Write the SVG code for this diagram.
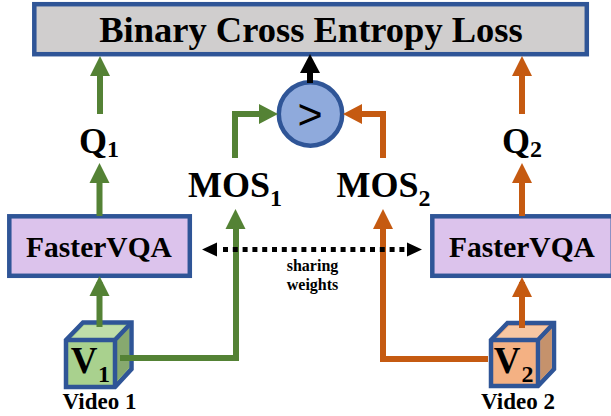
<svg xmlns="http://www.w3.org/2000/svg" width="611" height="416" viewBox="0 0 611 416">
<style>
.t{font-family:"Liberation Serif","Times New Roman",serif;font-weight:bold;fill:#000;text-anchor:middle}
.box{stroke:#2f5597;stroke-width:4.5}
.g{stroke:#548235;fill:none;stroke-width:6}
.o{stroke:#c55a11;fill:none;stroke-width:6}
.gh{fill:#548235}.oh{fill:#c55a11}
</style>
<rect width="611" height="416" fill="#fff"/>
<g id="loss"><rect class="box" x="34.3" y="4.2" width="552.5" height="50" fill="#d0cece"/>
<text class="t" x="311" y="42" font-size="36.5">Binary Cross Entropy Loss</text></g>
<g id="compare"><circle class="box" cx="310.5" cy="114" r="31.7" fill="#8faadc"/>
<text x="310" y="129" font-size="43" text-anchor="middle" font-family="Liberation Sans, Arial, sans-serif" fill="#000">&gt;</text></g>
<g id="q1"><text class="t" x="99" y="153" font-size="36">Q<tspan font-size="24" dy="4">1</tspan></text></g>
<g id="q2"><text class="t" x="522" y="153" font-size="36">Q<tspan font-size="24" dy="4">2</tspan></text></g>
<g id="mos1"><text class="t" x="235" y="197" font-size="36">MOS<tspan font-size="24" dy="9">1</tspan></text></g>
<g id="mos2"><text class="t" x="383.500" y="197" font-size="36">MOS<tspan font-size="24" dy="9">2</tspan></text></g>
<g id="fastervqa1"><rect class="box" x="9.3" y="216.3" width="180.5" height="59.5" fill="#dcc3ec"/>
<text class="t" x="99" y="257" font-size="29.500">FasterVQA</text></g>
<g id="fastervqa2"><rect class="box" x="432.3" y="216.3" width="180.5" height="59.5" fill="#dcc3ec"/>
<text class="t" x="522" y="257" font-size="29.500">FasterVQA</text></g>
<g id="video1">
<path d="M66 340 L83 322.500 H131.500 V369 L115 387 H66 Z" fill="#a9d18e" stroke="#2f5597" stroke-width="4.500"/>
<path d="M72 338 L84 325.500 H126 L113 338 Z" fill="#bfdea9"/>
<path d="M117 341 L129 328 V368 L117 381 Z" fill="#87a96f"/>
<path d="M66 340 H115 V387 M115 340 L131.500 322.500" fill="none" stroke="#2f5597" stroke-width="4.500"/>
<text class="t" x="84" y="373" font-size="37">V</text><text class="t" x="104" y="382" font-size="24">1</text>
<text class="t" x="99.500" y="409" font-size="23">Video 1</text></g>
<g id="video2">
<path d="M491 340 L507.500 323 H554 V369 L538 386 H491 Z" fill="#f4b183" stroke="#2f5597" stroke-width="4.500"/>
<path d="M497 338 L509 326 H549 L537 338 Z" fill="#f7c7a3"/>
<path d="M540.500 341 L551.500 329 V368 L540.500 380 Z" fill="#c5926c"/>
<path d="M491 340 H538 V386 M538 340 L554 323" fill="none" stroke="#2f5597" stroke-width="4.500"/>
<text class="t" x="507" y="373" font-size="37">V</text><text class="t" x="527.500" y="382" font-size="24">2</text>
<text class="t" x="518" y="409" font-size="23">Video 2</text></g>
<g id="sharing"><text class="t" x="312.500" y="271" font-size="16">sharing</text>
<text class="t" x="312.500" y="290" font-size="16">weights</text></g>
<g id="connectors">
<path class="g" d="M100 114V75M99.500 216V182M99.500 327V282M235 158V114H260M120 358H236V226"/>
<path class="gh" d="M100 56l10 20h-20zM99.500 163l10 20h-20zM99.500 276l10 20h-20zM235.500 209l10 20h-20zM278 114l-19 -10v20z"/>
<path class="o" d="M522 114V75M522 216V182M522 328V282M383 158V114H360M488 359H383V226"/>
<path class="oh" d="M522 56l10 20h-20zM522 163l10 20h-20zM522 277l10 20h-20zM383 209l10 20h-20zM343 114l19 -10v20z"/>
<path d="M310 83V68" stroke="#000" stroke-width="6" fill="none"/><path d="M310 54l10 19h-20z" fill="#000"/>
<path d="M223 249.500H406" stroke="#000" stroke-width="5" stroke-dasharray="5 4.800" fill="none"/>
<path d="M202 249.500l15 -7v14zM422 249.500l-15 -7v14z" fill="#000"/>
</g>
</svg>
